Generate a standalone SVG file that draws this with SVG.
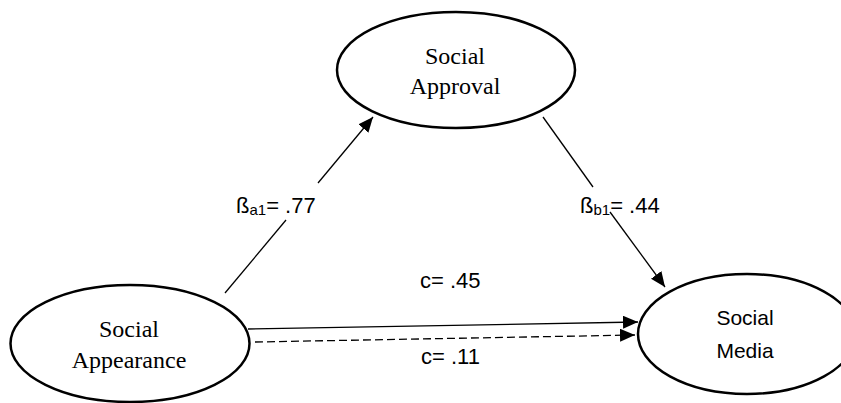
<svg xmlns="http://www.w3.org/2000/svg" width="841" height="403" viewBox="0 0 841 403">
<style>
.node ellipse{fill:#fff;stroke:#000;stroke-width:2.5}
.serif{font-family:"Liberation Serif","Times New Roman",serif;font-size:24px;fill:#000;text-anchor:middle}
.sans{font-family:"Liberation Sans",Arial,sans-serif;font-size:21px;fill:#000;text-anchor:middle}
.lbl{font-family:"Liberation Sans",Arial,sans-serif;font-size:22px;fill:#000}
.sub{font-size:15px}
.edge{stroke:#000;stroke-width:1.3;fill:none}
.dash{stroke-dasharray:8 4}
</style>
<defs>
<marker id="ah" markerUnits="userSpaceOnUse" markerWidth="16" markerHeight="13" refX="15" refY="6.5" orient="auto">
<path d="M0,0 L15,6.5 L0,13 z" fill="#000"/>
</marker>
</defs>
<g id="connectors">
<line class="edge" x1="225" y1="293" x2="286" y2="220"/>
<line class="edge" x1="318" y1="183" x2="373" y2="117" marker-end="url(#ah)"/>
<line class="edge" x1="543" y1="117" x2="593" y2="187"/>
<line class="edge" x1="610" y1="212" x2="665" y2="287" marker-end="url(#ah)"/>
<line class="edge" x1="248" y1="329" x2="638" y2="322" marker-end="url(#ah)"/>
<line class="edge dash" x1="255" y1="342" x2="635" y2="335" marker-end="url(#ah)"/>
</g>
<g id="labels">
<text class="lbl" x="236" y="213">ß<tspan class="sub" dy="2">a1</tspan><tspan dy="-2">= .77</tspan></text>
<text class="lbl" x="580" y="213">ß<tspan class="sub" dy="2">b1</tspan><tspan dy="-2">= .44</tspan></text>
<text class="lbl" x="420" y="288">c= .45</text>
<text class="lbl" x="421" y="364">c= .11</text>
</g>
<g id="social-approval" class="node">
<ellipse cx="456" cy="70" rx="119" ry="58"/>
<text class="serif" x="455" y="64">Social</text>
<text class="serif" x="455" y="94">Approval</text>
</g>
<g id="social-appearance" class="node">
<ellipse cx="130" cy="343.5" rx="119.5" ry="58.5"/>
<text class="serif" x="129" y="337">Social</text>
<text class="serif" x="129" y="368">Appearance</text>
</g>
<g id="social-media" class="node">
<ellipse cx="747" cy="334" rx="109" ry="60"/>
<text class="sans" x="745" y="325">Social</text>
<text class="sans" x="745" y="358">Media</text>
</g>
</svg>
